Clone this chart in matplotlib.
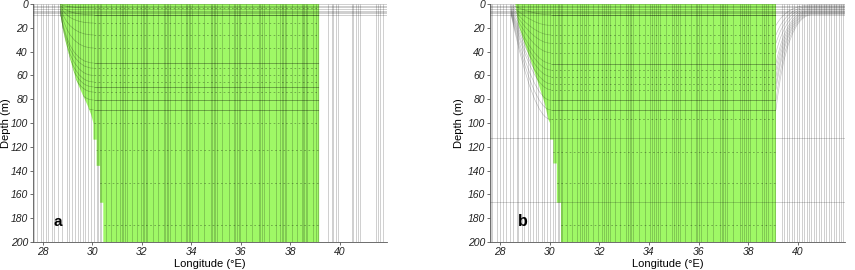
import matplotlib
matplotlib.use("Agg")
import matplotlib.pyplot as plt
from matplotlib.path import Path
from matplotlib.patches import PathPatch

plt.rcParams['font.family'] = ['Liberation Sans', 'DejaVu Sans']

# ---------------- data ----------------
x_ticks = [28, 30, 32, 34, 36, 38, 40]
y_ticks = [0, 20, 40, 60, 80, 100, 120, 140, 160, 180, 200]
lon_range = (27.6, 41.9)
depth_range = (200, 0)

# panel a: grid longitudes
lon_a = [27.64, 27.77, 27.92, 28.02, 28.13, 28.22, 28.36, 28.45, 28.62, 28.76, 28.96, 29.07,
         29.16, 29.30, 29.43, 29.50, 29.63, 29.70, 29.83, 29.93, 30.06, 30.17, 30.24, 30.30,
         30.36, 30.55, 30.75, 30.95, 31.12, 31.18, 31.25, 31.32, 31.38, 31.60, 31.80, 31.98,
         32.04, 32.10, 32.16, 32.22, 32.45, 32.65, 32.88, 32.94, 33.00, 33.06, 33.12, 33.35,
         33.58, 33.78, 33.84, 33.90, 33.96, 34.02, 34.25, 34.50, 34.78, 34.84, 34.90, 34.96,
         35.02, 35.25, 35.50, 35.72, 35.78, 35.85, 35.92, 35.98, 36.20, 36.45, 36.72, 36.78,
         36.85, 36.92, 37.15, 37.40, 37.58, 37.64, 37.70, 37.76, 37.82, 38.05, 38.28, 38.45,
         38.50, 38.55, 38.62, 38.68, 38.90, 39.05, 39.12,
         39.53, 39.67, 39.73, 39.84, 39.91, 40.48, 40.54, 40.65, 40.74, 40.81,
         41.46, 41.55, 41.62, 41.73]
bnd_a_lon = [28.69, 28.72, 28.80, 28.90, 29.02, 29.18, 29.35, 29.58, 29.80, 29.95, 30.04,
             30.04, 30.17, 30.17, 30.31, 30.31, 30.44, 30.44]
bnd_a_dep = [0, 10, 20, 30, 40, 52, 64, 75, 85, 93, 100,
             114, 114, 136, 136, 167, 167, 200]
east_a = 39.16
shelf_a = 30.05
surface_a = [0.0, 1.7, 2.8, 4.2, 5.6, 6.7, 7.8, 9.2]
solid_a = [9.2, 49.6, 69.7, 80.7, 89.0]
dashed_a = [3.4, 16, 26, 37, 54, 60, 65.5, 74, 100, 123, 150, 186]
fan_a_top = [0.3, 0.7, 1.2, 1.8, 2.5, 3.2, 3.9, 4.6, 5.3, 6.0, 6.7, 7.4, 8.1, 8.8]
fan_a_end = [3.4, 9.2, 16, 26, 37, 49.6, 54, 60, 65.5, 69.7, 74, 80.7, 89, 100]
fan_a_start = 28.69
fan_a_ctrl = 29.0

# panel b: grid longitudes
lon_b = [27.64, 27.70, 27.87, 28.00, 28.14, 28.23, 28.41, 28.54, 28.67, 28.74, 28.88, 28.98,
         29.12, 29.21, 29.34, 29.44, 29.55, 29.68, 29.79, 29.88, 30.02, 30.12, 30.22,
         30.32, 30.38, 30.44, 30.50, 30.70, 30.90, 31.10, 31.22, 31.30, 31.38, 31.46, 31.54,
         31.75, 31.95, 32.12, 32.20, 32.27, 32.34, 32.42, 32.65, 32.85, 33.08, 33.15, 33.22,
         33.29, 33.36, 33.60, 33.85, 34.05, 34.12, 34.20, 34.28, 34.36, 34.44, 34.70, 34.95,
         35.02, 35.10, 35.18, 35.25, 35.45, 35.70, 35.88, 35.95, 36.02, 36.10, 36.35, 36.60,
         36.86, 36.93, 37.00, 37.07, 37.14, 37.40, 37.67, 37.75, 37.82, 37.90, 37.98, 38.06,
         38.30, 38.55, 38.62, 38.70, 38.78, 38.95, 39.08,
         39.35, 39.45, 39.55, 39.65, 39.75, 39.85, 39.95, 40.05, 40.15, 40.25, 40.35, 40.45,
         40.55, 40.65, 40.75, 40.85, 40.95, 41.05, 41.15, 41.25, 41.35, 41.45, 41.55, 41.65,
         41.75, 41.83]
bnd_b_lon = [28.62, 28.74, 29.01, 29.28, 29.55, 29.81, 29.95, 30.02,
             30.02, 30.15, 30.15, 30.29, 30.29, 30.46, 30.46]
bnd_b_dep = [0, 17, 34, 50, 67, 84, 97, 100,
             114, 114, 134, 134, 167, 167, 200]
east_b = 39.12
shelf_b = 30.05
surface_b = [0.0, 1.7, 2.8, 4.2, 5.6, 6.7, 7.8, 9.2]
solid_b = [9.2, 50, 81, 89]
dashed_b = [18, 26, 33, 41, 55.5, 61, 67, 72, 97, 124, 150, 186]
full_b = [113, 166]
fan_b_top = [0.6, 1.3, 2.0, 2.7, 3.4, 4.1, 4.8, 5.5, 6.2, 6.9, 7.6, 8.3, 9.0]
fan_b_end = [9.2, 18, 26, 33, 41, 50, 55.5, 61, 67, 72, 81, 89, 97]
fan_b_start = 28.45
fan_b_ctrl = 29.35
rfan_b_top = [0.8, 1.6, 2.4, 3.2, 4.0, 4.8, 5.6, 6.4, 7.2, 8.0, 8.8]
rfan_b_end = [18, 26, 33, 41, 50, 55.5, 61, 67, 72, 81, 89]
rfan_b_start = 40.6
rfan_b_ctrl = 39.55

GREEN = '#9ff866'


def curve(ax, p0, p1, p2, clip=None, pre=None, alpha=0.3):
    verts = []
    codes = []
    if pre is not None:
        verts += [pre, p0]
        codes += [Path.MOVETO, Path.LINETO]
    else:
        verts += [p0]
        codes += [Path.MOVETO]
    verts += [p1, p2]
    codes += [Path.CURVE3, Path.CURVE3]
    patch = PathPatch(Path(verts, codes), fill=False, edgecolor='k', alpha=alpha,
                      lw=0.5, zorder=3)
    ax.add_patch(patch)
    if clip is not None:
        patch.set_clip_path(clip)


def style(ax, letter, letter_font, letter_pos, ylab_x):
    ax.set_xlim(*lon_range)
    ax.set_ylim(*depth_range)
    ax.set_xticks(x_ticks)
    ax.set_yticks(y_ticks)
    for s in ('top', 'right'):
        ax.spines[s].set_visible(False)
    for s in ('left', 'bottom'):
        ax.spines[s].set_color('#555555')
        ax.spines[s].set_linewidth(0.6)
    ax.tick_params(length=2.5, width=0.6, color='#555555', labelsize=7.5,
                   labelcolor='#222222', pad=1.2)
    for lab in ax.get_xticklabels() + ax.get_yticklabels():
        lab.set_fontstyle('italic')
    ax.set_xlabel('Longitude (°E)', fontsize=8, labelpad=1)
    ax.set_ylabel('Depth (m)', fontsize=8)
    ax.yaxis.set_label_coords(ylab_x, 0.5)
    ax.text(letter_pos[0], letter_pos[1], letter, ha='center', va='center',
            zorder=6, **letter_font)


fig = plt.figure(figsize=(8.55, 2.70), dpi=100)
ax_a = fig.add_axes([33 / 855, 28 / 270, 354 / 855, 238 / 270])
ax_b = fig.add_axes([490 / 855, 28 / 270, 355 / 855, 238 / 270])

# ---- panel a ----
ax = ax_a
poly_a = ax.fill(bnd_a_lon + [east_a, east_a], bnd_a_dep + [200, 0],
                 color=GREEN, lw=0, zorder=1)[0]
ax.vlines(lon_a, 0, 200, colors='k', alpha=0.22, lw=0.6, zorder=2)
ax.hlines(surface_a, lon_range[0], lon_range[1], colors='k', alpha=0.22, lw=0.6, zorder=3)
for d in solid_a:
    ln = ax.hlines(d, shelf_a if d <= 100 else lon_range[0], east_a, colors='k',
                   alpha=0.38, lw=0.6, zorder=3)
    ln.set_clip_path(poly_a)
for d in dashed_a:
    ln = ax.hlines(d, shelf_a if d <= 100 else lon_range[0], east_a, colors='k',
                   alpha=0.35, lw=0.6, linestyles=(0, (2, 3)), zorder=3)
    ln.set_clip_path(poly_a)
for t, e in zip(fan_a_top, fan_a_end):
    curve(ax, (fan_a_start, t), (fan_a_ctrl, e), (shelf_a, e), clip=poly_a, alpha=0.25)
style(ax, 'a', dict(fontsize=11, fontweight='bold', family='Liberation Sans'),
      (28.58, 183), -0.063)

# ---- panel b ----
ax = ax_b
poly_b = ax.fill(bnd_b_lon + [east_b, east_b], bnd_b_dep + [200, 0],
                 color=GREEN, lw=0, zorder=1)[0]
ax.vlines(lon_b, 0, 200, colors='k', alpha=0.22, lw=0.6, zorder=2)
ax.hlines(surface_b, lon_range[0], lon_range[1], colors='k', alpha=0.22, lw=0.6, zorder=3)
ax.hlines(full_b, lon_range[0], lon_range[1], colors='k', alpha=0.25, lw=0.5, zorder=3)
for d in solid_b:
    ln = ax.hlines(d, shelf_b if d <= 100 else lon_range[0], east_b, colors='k',
                   alpha=0.38, lw=0.6, zorder=3)
    ln.set_clip_path(poly_b)
for d in dashed_b:
    ln = ax.hlines(d, shelf_b if d <= 100 else lon_range[0], east_b, colors='k',
                   alpha=0.35, lw=0.6, linestyles=(0, (2, 3)), zorder=3)
    ln.set_clip_path(poly_b)
for t, e in zip(fan_b_top, fan_b_end):
    curve(ax, (fan_b_start, t), (fan_b_ctrl, e), (shelf_b, e), alpha=0.22)
for t, e in zip(rfan_b_top, rfan_b_end):
    curve(ax, (rfan_b_start, t), (rfan_b_ctrl, t), (east_b, e), pre=(lon_range[1], t),
          alpha=0.22)
style(ax, 'b', dict(fontsize=12, fontweight='bold', family='Liberation Mono'),
      (28.92, 183), -0.072)

fig.savefig('out.png', dpi=100)
